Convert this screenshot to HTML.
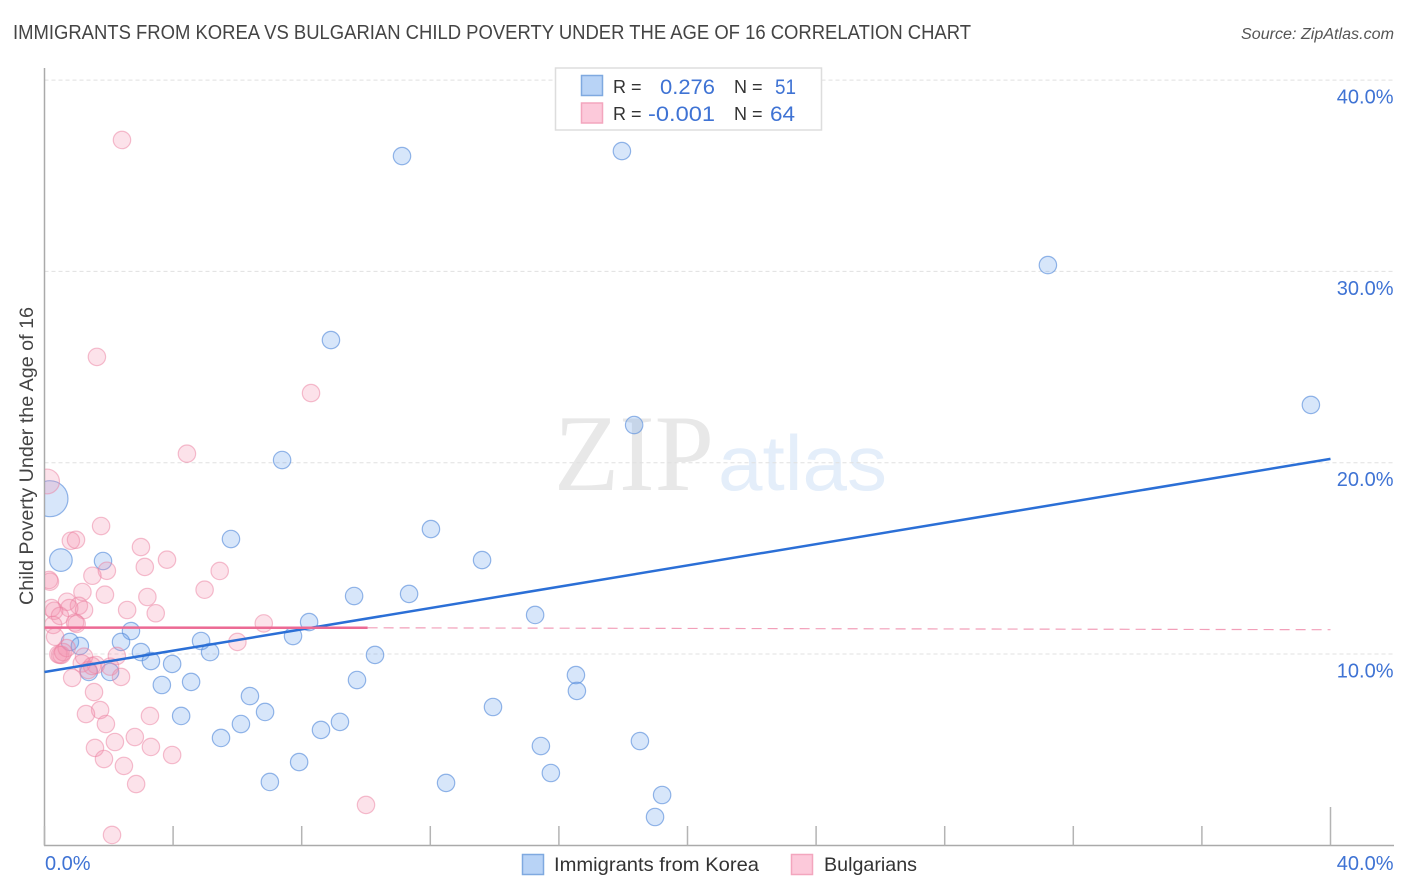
<!DOCTYPE html>
<html lang="en">
<head>
<meta charset="utf-8">
<title>Immigrants from Korea vs Bulgarian Child Poverty Correlation Chart</title>
<style>
html,body{margin:0;padding:0;background:#fff;width:1406px;height:892px;overflow:hidden}
svg{display:block;font-family:"Liberation Sans",sans-serif}
</style>
</head>
<body>
<svg id="chart" xmlns="http://www.w3.org/2000/svg" width="1406" height="892" viewBox="0 0 1406 892">
  <defs><clipPath id="plot-clip"><rect x="45" y="60" width="1349" height="785"/></clipPath></defs>
  <rect width="1406" height="892" fill="#fff"/>
  <text x="13" y="39" font-size="20" fill="#444" textLength="958" lengthAdjust="spacingAndGlyphs">IMMIGRANTS FROM KOREA VS BULGARIAN CHILD POVERTY UNDER THE AGE OF 16 CORRELATION CHART</text>
  <text x="1241" y="39" font-size="15.5" font-style="italic" fill="#555" textLength="153" lengthAdjust="spacingAndGlyphs">Source: ZipAtlas.com</text>
  <g>
    <text x="554" y="490" font-family="'Liberation Serif',serif" font-size="109" fill="#e8e8e8" textLength="160" lengthAdjust="spacingAndGlyphs">ZIP</text>
    <text x="718" y="490" font-size="78" fill="#e4eefa" textLength="169" lengthAdjust="spacingAndGlyphs">atlas</text>
  </g>
  <g id="grid"></g>
  <g id="axes"></g>
  <g id="points" clip-path="url(#plot-clip)"></g>
  <g id="trends"></g>
  <g id="labels"></g>
  <text transform="translate(33,605) rotate(-90)" font-size="19" fill="#444" textLength="298" lengthAdjust="spacingAndGlyphs">Child Poverty Under the Age of 16</text>
  <g>
    <rect x="555.5" y="68" width="266" height="62" fill="#fff" stroke="#ddd" stroke-width="1.5"/>
    <rect x="581.5" y="75.5" width="21" height="20" fill="#b8d3f6" stroke="#7fa9e0" stroke-width="1.5"/>
    <rect x="581.5" y="103" width="21" height="20" fill="#fcc9da" stroke="#f3a6be" stroke-width="1.5"/>
    <text x="613" y="93" font-size="18" fill="#333">R =</text>
    <text x="660" y="94" font-size="21" fill="#3f73d4" textLength="55" lengthAdjust="spacingAndGlyphs">0.276</text>
    <text x="734" y="93" font-size="18" fill="#333">N =</text>
    <text x="775" y="94" font-size="21" fill="#3f73d4" textLength="21" lengthAdjust="spacingAndGlyphs">51</text>
    <text x="613" y="120" font-size="18" fill="#333">R =</text>
    <text x="648" y="121" font-size="21" fill="#3f73d4" textLength="67" lengthAdjust="spacingAndGlyphs">-0.001</text>
    <text x="734" y="120" font-size="18" fill="#333">N =</text>
    <text x="770" y="121" font-size="21" fill="#3f73d4" textLength="25" lengthAdjust="spacingAndGlyphs">64</text>
  </g>
  <g>
    <rect x="522.5" y="854.5" width="21" height="20" fill="#b8d3f6" stroke="#7fa9e0" stroke-width="1.5"/>
    <text x="554" y="871" font-size="19.5" fill="#333" textLength="205" lengthAdjust="spacingAndGlyphs">Immigrants from Korea</text>
    <rect x="791.5" y="854.5" width="21" height="20" fill="#fcc9da" stroke="#f3a6be" stroke-width="1.5"/>
    <text x="824" y="871" font-size="19.5" fill="#333" textLength="93" lengthAdjust="spacingAndGlyphs">Bulgarians</text>
  </g>
</svg>
<script>
const yTicks = [10, 20, 30, 40];
const yTickLabels = ["10.0%", "20.0%", "30.0%", "40.0%"];
const xTicks = [0, 4, 8, 12, 16, 20, 24, 28, 32, 36, 40];
const xEndLabels = ["0.0%", "40.0%"];

const koreaX = [11.12,17.96,31.21,39.39,8.91,18.34,7.39,0.17,12.02,5.80,0.51,1.82,13.61,11.34,9.63,15.26,8.23,2.69,7.73,0.79,1.10,2.38,4.87,3.00,5.15,10.28,3.31,3.97,16.53,1.38,2.04,3.65,4.56,9.72,16.56,6.39,6.86,4.25,13.95,6.11,9.19,8.60,5.49,18.52,15.44,7.92,15.75,7.01,12.49,19.21,18.99];
const koreaY = [36.03,36.29,30.33,23.02,26.41,21.97,20.14,18.12,16.53,16.01,14.91,14.86,14.91,13.14,13.03,12.04,11.67,11.20,10.94,10.63,10.42,10.63,10.68,10.10,10.10,9.95,9.63,9.48,8.90,9.06,9.06,8.38,8.54,8.64,8.07,7.80,6.97,6.76,7.23,6.34,6.45,6.03,5.61,5.45,5.19,4.35,3.78,3.31,3.26,2.63,1.48];
const koreaWeight = [1,1,1,1,1,1,1,4.28,1,1,1.69,1,1,1,1,1,1,1,1,1,1,1,1,1,1,1,1,1,1,1,1,1,1,1,1,1,1,1,1,1,1,1,1,1,1,1,1,1,1,1,1];

const bulgarX = [2.41,1.63,8.29,4.43,0.08,1.76,0.82,0.98,3.00,3.81,3.12,5.45,1.94,1.49,0.17,0.14,4.98,1.18,1.88,3.20,0.70,2.57,3.46,1.07,0.77,1.23,0.22,0.30,0.48,0.95,1.00,0.27,6.82,6.00,0.33,0.48,0.53,0.43,0.69,1.23,2.25,1.60,2.04,1.16,1.36,1.48,0.58,0.86,2.38,1.54,1.73,1.29,3.28,1.91,2.81,2.19,1.57,3.31,1.85,3.97,2.47,2.85,10.00,2.10];
const bulgarY = [36.87,25.53,23.64,20.47,19.02,16.69,15.92,15.97,15.59,14.93,14.55,14.34,14.35,14.09,13.78,13.87,13.36,13.24,13.10,12.98,12.73,12.30,12.13,12.52,12.40,12.30,12.40,12.26,11.99,11.64,11.57,11.52,11.60,10.63,10.90,9.95,9.95,9.98,10.31,9.86,9.90,9.43,9.34,9.51,9.16,9.37,10.10,8.75,8.80,8.01,7.07,6.86,6.76,6.34,5.66,5.40,5.09,5.14,4.51,4.72,4.15,3.20,2.11,0.54];
const bulgarWeight = [1,1,1,1,2.03,1,1,1,1,1,1,1,1,1,1,1,1,1,1,1,1,1,1,1,1,1,1,1,1,1,1,1,1,1,1,1,1,1,1,1,1,1,1,1,1,1,1,1,1,1,1,1,1,1,1,1,1,1,1,1,1,1,1,1];

const koreaTrendX = [0, 40];
const koreaTrendY = [9.06, 20.2];
const bulgarTrendSolidX = [0, 10.05];
const bulgarTrendSolidY = [11.38, 11.37];
const bulgarTrendDashX = [10.05, 40];
const bulgarTrendDashY = [11.37, 11.27];

const SVGNS = "http://www.w3.org/2000/svg";
const xScale = v => 44.5 + v * 32.15;
const yScale = v => 845.3 - v * 19.13;
const rScale = w => 8.7 * Math.sqrt(w);

function make(tag, attrs, parent) {
  const el = document.createElementNS(SVGNS, tag);
  for (const k in attrs) el.setAttribute(k, attrs[k]);
  parent.appendChild(el);
  return el;
}

const grid = document.getElementById("grid");
const axes = document.getElementById("axes");
const points = document.getElementById("points");
const trends = document.getElementById("trends");
const labels = document.getElementById("labels");

yTicks.forEach((t, i) => {
  const line = make("line", {x1: 44.5, x2: 1394, y1: yScale(t), y2: yScale(t), stroke: "#e0e0e0", "stroke-width": 1, "stroke-dasharray": "4 3"}, grid);
  
  
  const label = make("text", {x: 1393.5, y: yScale(t) + 23.5, "text-anchor": "end", "font-size": 20, fill: "#3f73d4"}, labels);
  label.textContent = yTickLabels[i];
  
  
});

const axisY = make("line", {x1: 44.5, x2: 44.5, y1: 68, y2: 845.5, stroke: "#aaa", "stroke-width": 1.5}, axes);


const axisX = make("line", {x1: 44, x2: 1394, y1: 845.5, y2: 845.5, stroke: "#aaa", "stroke-width": 1.5}, axes);



xTicks.forEach((t, i) => {
  const isLast = i === xTicks.length - 1;
  const tick = make("line", {x1: xScale(t), x2: xScale(t), y1: isLast ? 807 : 826, y2: 845.5, stroke: "#b4b4b4", "stroke-width": 1.5}, axes);
  
  
});

const xLabelStart = make("text", {x: 45, y: 870, "font-size": 20, fill: "#3f73d4"}, labels);
xLabelStart.textContent = xEndLabels[0];


const xLabelEnd = make("text", {x: 1393.5, y: 870, "text-anchor": "end", "font-size": 20, fill: "#3f73d4"}, labels);
xLabelEnd.textContent = xEndLabels[1];



koreaX.forEach((x, i) => {
  const c = make("circle", {cx: xScale(x), cy: yScale(koreaY[i]), r: rScale(koreaWeight[i]), fill: "#6ba3ee", "fill-opacity": 0.27, stroke: "#5a8fdc", "stroke-opacity": 0.65, "stroke-width": 1.2}, points);
  
  
});

bulgarX.forEach((x, i) => {
  const c = make("circle", {cx: xScale(x), cy: yScale(bulgarY[i]), r: rScale(bulgarWeight[i]), fill: "#f590ad", "fill-opacity": 0.26, stroke: "#ec7fa0", "stroke-opacity": 0.5, "stroke-width": 1.2}, points);
  
  
});

const dashTrend = make("line", {x1: xScale(bulgarTrendDashX[0]), x2: xScale(bulgarTrendDashX[1]), y1: yScale(bulgarTrendDashY[0]), y2: yScale(bulgarTrendDashY[1]), stroke: "#ee7fa2", "stroke-opacity": 0.75, "stroke-width": 1.2, "stroke-dasharray": "10 6"}, trends);


const koreaTrend = make("line", {x1: xScale(koreaTrendX[0]), x2: xScale(koreaTrendX[1]), y1: yScale(koreaTrendY[0]), y2: yScale(koreaTrendY[1]), stroke: "#2b6fd6", "stroke-width": 2.5}, trends);


const bulgarTrend = make("line", {x1: xScale(bulgarTrendSolidX[0]), x2: xScale(bulgarTrendSolidX[1]), y1: yScale(bulgarTrendSolidY[0]), y2: yScale(bulgarTrendSolidY[1]), stroke: "#ec6a94", "stroke-width": 2.5}, trends);


</script>
</body>
</html>
